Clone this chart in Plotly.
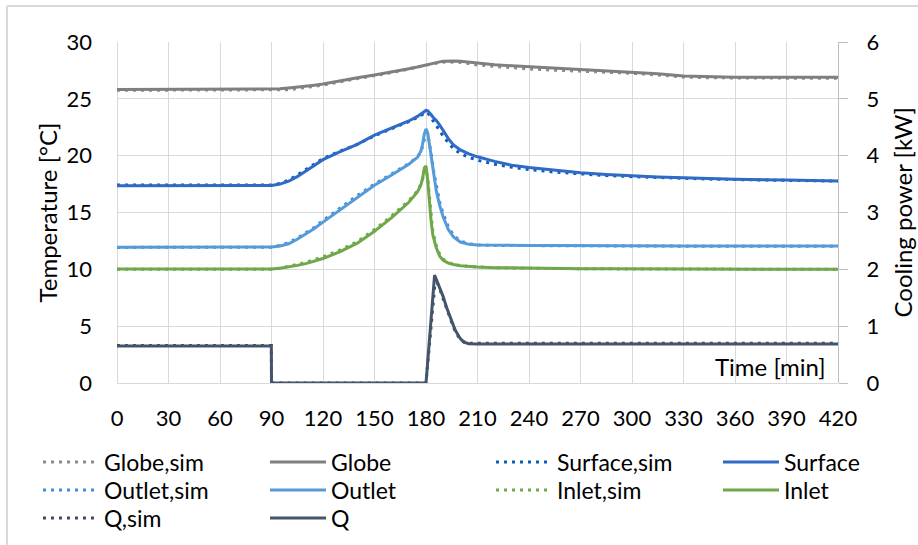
import plotly.graph_objects as go

# Time axis (min) shared by the temperature series
t = [0, 30, 60, 90, 95, 100, 105, 110, 115, 120, 130, 140, 150, 160, 170, 175,
     177, 178, 179, 180, 181, 182, 183, 184, 186, 188, 190, 193, 196, 200, 205,
     210, 220, 230, 240, 255, 270, 285, 300, 315, 330, 345, 360, 390, 420]

# Measured temperatures (°C)
globe = [25.82, 25.82, 25.82, 25.85, 25.88, 25.95, 26.02, 26.1, 26.2, 26.3, 26.6,
         26.85, 27.1, 27.35, 27.65, 27.8, 27.87, 27.92, 27.97, 28.02, 28.06, 28.1,
         28.13, 28.16, 28.2, 28.25, 28.3, 28.33, 28.33, 28.3, 28.22, 28.12, 28.0,
         27.9, 27.82, 27.72, 27.62, 27.5, 27.38, 27.2, 27.0, 26.92, 26.9, 26.9, 26.9]
surface = [17.35, 17.35, 17.35, 17.37, 17.5, 17.75, 18.15, 18.65, 19.15, 19.65,
           20.35, 21.0, 21.8, 22.4, 23.05, 23.45, 23.65, 23.78, 23.9, 23.98, 23.95,
           23.8, 23.6, 23.4, 23.1, 22.7, 22.2, 21.5, 20.95, 20.5, 20.15, 19.9, 19.5,
           19.15, 18.95, 18.7, 18.5, 18.35, 18.22, 18.12, 18.05, 17.98, 17.93,
           17.85, 17.78]
outlet = [11.95, 11.95, 11.95, 11.97, 12.05, 12.25, 12.65, 13.1, 13.6, 14.15,
          15.25, 16.35, 17.4, 18.3, 19.25, 19.85, 20.4, 21.0, 21.9, 22.35, 22.0,
          21.0, 19.9, 18.7, 16.9, 15.6, 14.6, 13.5, 12.85, 12.4, 12.2, 12.15,
          12.12, 12.1, 12.1, 12.1, 12.08, 12.08, 12.07, 12.07, 12.06, 12.06, 12.05,
          12.05, 12.05]
inlet = [10.02, 10.02, 10.02, 10.03, 10.1, 10.2, 10.35, 10.5, 10.7, 10.95, 11.55,
         12.3, 13.35, 14.55, 15.9, 16.8, 17.4, 18.0, 18.9, 19.1, 17.8, 15.9, 14.2,
         13.0, 11.9, 11.15, 10.8, 10.55, 10.42, 10.32, 10.24, 10.2, 10.15, 10.12,
         10.1, 10.08, 10.06, 10.05, 10.05, 10.04, 10.03, 10.03, 10.02, 10.02, 10.0]

# Simulated temperatures (°C)
globe_sim = [25.75, 25.75, 25.75, 25.75, 25.76, 25.8, 25.9, 26.0, 26.1, 26.2, 26.5,
             26.8, 27.05, 27.3, 27.6, 27.75, 27.82, 27.86, 27.9, 27.95, 27.99, 28.03,
             28.06, 28.09, 28.14, 28.18, 28.22, 28.25, 28.25, 28.2, 28.1, 27.98,
             27.85, 27.73, 27.63, 27.52, 27.45, 27.35, 27.25, 27.1, 26.92, 26.85,
             26.82, 26.82, 26.82]
surface_sim = [17.42, 17.42, 17.42, 17.42, 17.55, 17.85, 18.3, 18.8, 19.3, 19.75,
               20.4, 21.0, 21.75, 22.35, 23.0, 23.35, 23.55, 23.65, 23.75, 23.82,
               23.78, 23.6, 23.35, 23.1, 22.7, 22.2, 21.7, 21.1, 20.6, 20.2, 19.85,
               19.6, 19.25, 18.98, 18.78, 18.55, 18.38, 18.25, 18.15, 18.06, 18.0,
               17.94, 17.9, 17.83, 17.76]
outlet_sim = [11.93, 11.93, 11.93, 11.95, 12.1, 12.35, 12.75, 13.2, 13.7, 14.3,
              15.4, 16.5, 17.5, 18.4, 19.3, 19.9, 20.3, 20.8, 21.5, 22.05, 21.9,
              21.2, 20.2, 19.0, 17.3, 15.9, 14.9, 13.75, 13.0, 12.5, 12.25, 12.15,
              12.1, 12.09, 12.08, 12.07, 12.06, 12.06, 12.05, 12.05, 12.04, 12.04,
              12.03, 12.03, 12.03]
inlet_sim = [10.0, 10.0, 10.0, 10.0, 10.1, 10.25, 10.42, 10.6, 10.85, 11.1, 11.7,
             12.45, 13.5, 14.7, 16.05, 16.9, 17.5, 17.95, 18.6, 18.85, 18.0, 16.3,
             14.6, 13.3, 12.1, 11.3, 10.9, 10.6, 10.45, 10.33, 10.25, 10.2, 10.14,
             10.1, 10.08, 10.06, 10.05, 10.04, 10.03, 10.03, 10.02, 10.02, 10.01,
             10.01, 10.0]

# Cooling power (kW)
t_q = [0, 30, 60, 89.9, 90, 120, 150, 180, 185, 187, 190, 192, 195, 197, 200, 202,
       205, 210, 240, 300, 360, 420]
q = [0.65, 0.65, 0.65, 0.65, 0, 0, 0, 0, 1.9, 1.75, 1.52, 1.33, 1.08, 0.93, 0.78,
     0.72, 0.69, 0.685, 0.685, 0.685, 0.685, 0.685]
t_q_sim = [0, 30, 60, 89.9, 90, 120, 150, 180, 185.5, 188, 190, 193, 196, 198, 200,
           203, 206, 210, 240, 300, 360, 420]
q_sim = [0.66, 0.66, 0.66, 0.66, 0, 0, 0, 0, 1.84, 1.66, 1.48, 1.22, 0.98, 0.86,
         0.76, 0.71, 0.7, 0.7, 0.7, 0.7, 0.7, 0.7]

x_ticks = list(range(0, 421, 30))

DOT = "3px,5px"
series = [
    ("Globe,sim", t, globe_sim, "#8C8C8C", DOT, "y"),
    ("Globe", t, globe, "#7F7F7F", "solid", "y"),
    ("Surface,sim", t, surface_sim, "#0A5CC0", DOT, "y"),
    ("Surface", t, surface, "#2F6BC4", "solid", "y"),
    ("Outlet,sim", t, outlet_sim, "#3D8EDB", DOT, "y"),
    ("Outlet", t, outlet, "#559BD8", "solid", "y"),
    ("Inlet,sim", t, inlet_sim, "#6DAA45", DOT, "y"),
    ("Inlet", t, inlet, "#6EA84A", "solid", "y"),
    ("Q,sim", t_q_sim, q_sim, "#3E4B66", DOT, "y2"),
    ("Q", t_q, q, "#44546A", "solid", "y2"),
]

FONT = "Lato, Carlito, Calibri, sans-serif"
GRID = "#D9D9D9"

L, R, T, B = 117, 80, 42, 162
W, H = 918, 545
pw, ph = W - L - R, H - T - B


def px_x(p):
    return (p - L) / pw


def px_y(p):
    return (H - B - p) / ph


# legend grid: 4 columns (text left edge, px) and row centres (px)
legend_cols = [108, 335, 561, 788]
legend_rows = [462, 490, 518]
SYMBOL_W = 56

fig = go.Figure()
legends = {}
for i, (name, xs, ys, color, dash, yax) in enumerate(series):
    key = "legend" if i == 0 else f"legend{i + 1}"
    fig.add_trace(go.Scatter(
        x=xs, y=ys, name=name, mode="lines", yaxis=yax, legend=key,
        line=dict(color=color, width=3, dash=dash),
    ))
    col, row = i % 4, i // 4
    legends[key] = dict(
        x=px_x(legend_cols[col] - SYMBOL_W - 14), xanchor="left",
        y=px_y(legend_rows[row]), yanchor="middle",
        itemwidth=SYMBOL_W,
        font=dict(family=FONT, size=23, color="#000000"),
        bgcolor="rgba(0,0,0,0)", borderwidth=0,
    )

fig.update_layout(
    width=W, height=H,
    margin=dict(l=L, r=R, t=T, b=B, autoexpand=False),
    paper_bgcolor="white", plot_bgcolor="white",
    font=dict(family=FONT, size=22, color="#000000"),
    showlegend=True,
    xaxis=dict(
        range=[0, 420], tickmode="array", tickvals=x_ticks,
        ticktext=[str(v) for v in x_ticks],
        showgrid=True, gridcolor=GRID, gridwidth=1.3,
        zeroline=True, zerolinecolor=GRID, zerolinewidth=1.3,
        showline=False, ticks="", ticklabelstandoff=20,
        fixedrange=True,
    ),
    yaxis=dict(
        range=[0, 30], tick0=0, dtick=5,
        showgrid=True, gridcolor=GRID, gridwidth=1.3,
        zeroline=True, zerolinecolor=GRID, zerolinewidth=1.3,
        showline=False, ticks="", ticklabelstandoff=24,
    ),
    yaxis2=dict(
        range=[0, 6], tick0=0, dtick=1, overlaying="y", side="right",
        showgrid=False, zeroline=False,
        showline=True, linecolor="#BFBFBF", linewidth=1.3,
        ticks="outside", ticklen=9, tickcolor="#BFBFBF", tickwidth=1.3,
        ticklabelstandoff=14,
    ),
    annotations=[
        dict(text="Temperature [°C]", xref="paper", yref="paper",
             x=px_x(47), y=0.5, textangle=-90, showarrow=False,
             xanchor="center", yanchor="middle", font=dict(size=24)),
        dict(text="Cooling power [kW]", xref="paper", yref="paper",
             x=px_x(902), y=0.5, textangle=-90, showarrow=False,
             xanchor="center", yanchor="middle", font=dict(size=24)),
        dict(text="Time [min]", xref="paper", yref="paper",
             x=px_x(828), y=px_y(366), showarrow=False,
             xanchor="right", yanchor="middle", font=dict(size=24)),
    ],
    shapes=[
        dict(type="line", xref="paper", yref="paper",
             x0=px_x(7), x1=px_x(7), y0=px_y(6), y1=px_y(560),
             line=dict(color="#D9D9D9", width=2)),
        dict(type="line", xref="paper", yref="paper",
             x0=px_x(7), x1=px_x(930), y0=px_y(6), y1=px_y(6),
             line=dict(color="#D9D9D9", width=2)),
    ],
    **legends,
)

fig.write_html("out.html")
